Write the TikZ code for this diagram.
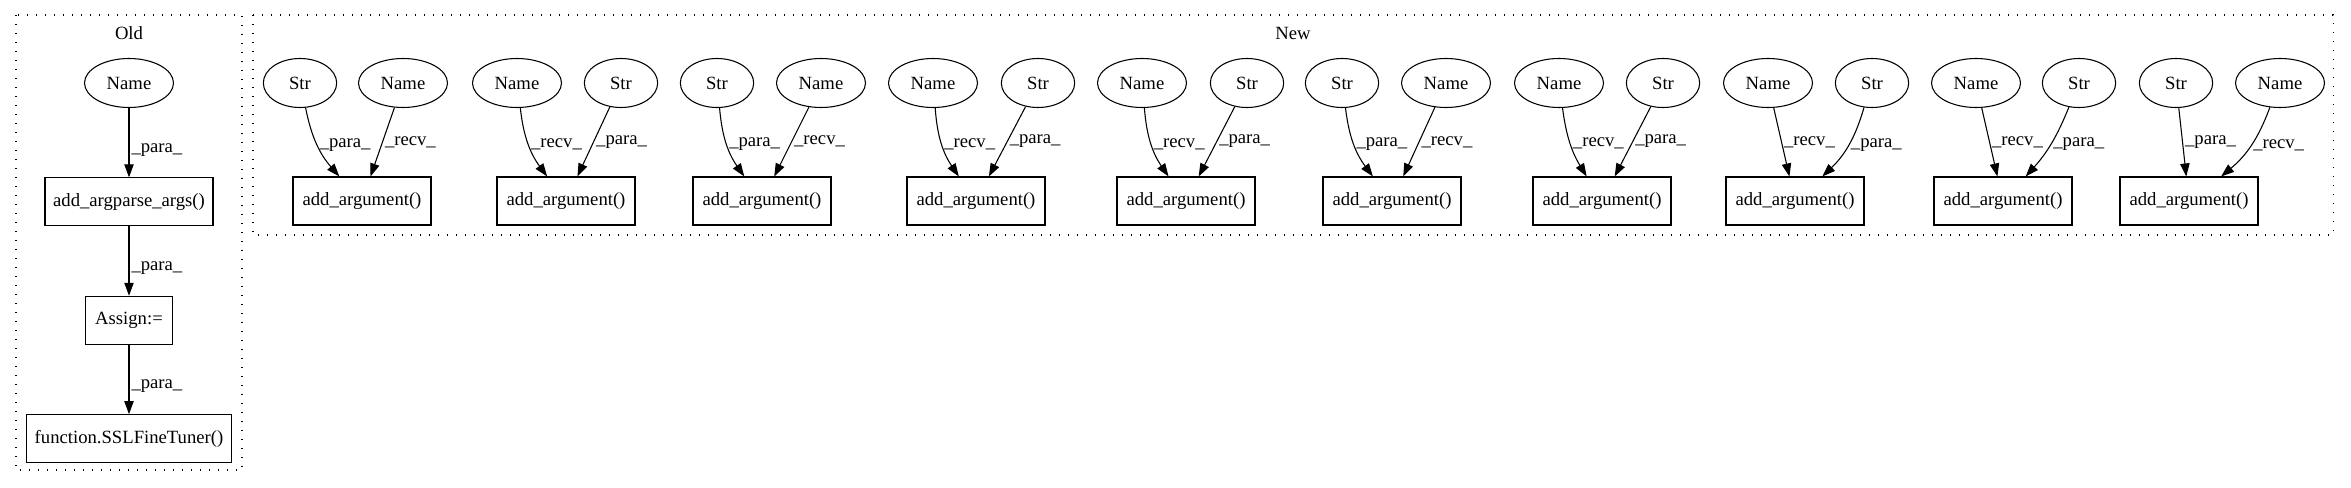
\documentclass[tikz,border=0pt]{standalone}
\usepackage{fontspec}
\setmainfont{Liberation Serif}
\usepackage{tikz}
\usetikzlibrary{shapes.geometric, arrows.meta, positioning}
\tikzstyle{namenode} = [ellipse, draw, line width=0.8pt, minimum width=66.75pt, minimum height=36.75pt, inner sep=0pt]
\tikzstyle{strnode} = [ellipse, draw, line width=0.8pt, minimum width=55pt, minimum height=36.75pt, inner sep=0pt]
\tikzstyle{callbox} = [rectangle, draw, line width=0.8pt, minimum width=103.5pt, minimum height=36pt, inner sep=0pt]
\tikzstyle{cluster} = [line width=0.8pt, dash pattern=on 0.9pt off 5.85pt]
\tikzstyle{arrow} = [line width=0.8pt, -{Triangle[length=9.75pt, width=7pt]}]
\tikzstyle{elabel} = [midway, right, inner sep=1.5pt]

\begin{document}
\begin{tikzpicture}[x=0.75pt, y=0.75pt, font=\fontsize{14pt}{16pt}\selectfont]
\useasboundingbox (0,0) rectangle (2351,-488);

% Clusters
\draw[cluster] (16,-15) rectangle (242,-470);
\node (oldlabel) at (129,-33) {Old};
\draw[cluster] (253,-15) rectangle (2333,-235);
\node (newlabel) at (1293,-33) {New};

% Old chain
\node[namenode] (oldname) at (129,-83) {Name};
\node[callbox, minimum width=126pt, below=52pt of oldname] (argparse) {add\_argparse\_args()};
\node[callbox, minimum width=65.25pt, below=52pt of argparse] (assign) {Assign:=};
\node[callbox, minimum width=153.75pt, below=52pt of assign] (tuner) {function.SSLFineTuner()};

\draw[arrow] (oldname) -- node[elabel, pos=0.6] {\_para\_} (argparse);
\draw[arrow] (argparse) -- node[elabel, pos=0.6] {\_para\_} (assign);
\draw[arrow] (assign) -- node[elabel, pos=0.6] {\_para\_} (tuner);

% New calls
\node[callbox] (arg1) at (362,-201) {add\_argument()};
\node[callbox] (arg2) at (566,-201) {add\_argument()};
\node[callbox] (arg3) at (762,-201) {add\_argument()};
\node[callbox] (arg4) at (976,-201) {add\_argument()};
\node[callbox] (arg5) at (1186,-201) {add\_argument()};
\node[callbox] (arg6) at (1392,-201) {add\_argument()};
\node[callbox] (arg7) at (1602,-201) {add\_argument()};
\node[callbox] (arg8) at (1795,-201) {add\_argument()};
\node[callbox] (arg9) at (2003,-201) {add\_argument()};
\node[callbox] (arg10) at (2189,-201) {add\_argument()};

% New operands
\node[strnode] (str1) at (300,-83) {Str};
\node[namenode] (name1) at (403,-83) {Name};
\node[namenode] (name2) at (517,-83) {Name};
\node[strnode] (str2) at (621,-83) {Str};
\node[strnode] (str3) at (717,-83) {Str};
\node[namenode] (name3) at (821,-83) {Name};
\node[namenode] (name4) at (933,-83) {Name};
\node[strnode] (str4) at (1038,-83) {Str};
\node[namenode] (name5) at (1142,-83) {Name};
\node[strnode] (str5) at (1247,-83) {Str};
\node[strnode] (str6) at (1342,-83) {Str};
\node[namenode] (name6) at (1446,-83) {Name};
\node[namenode] (name7) at (1559,-83) {Name};
\node[strnode] (str7) at (1663,-83) {Str};
\node[namenode] (name8) at (1768,-83) {Name};
\node[strnode] (str8) at (1872,-83) {Str};
\node[namenode] (name9) at (1976,-83) {Name};
\node[strnode] (str9) at (2079,-83) {Str};
\node[strnode] (str10) at (2176,-83) {Str};
\node[namenode] (name10) at (2280,-83) {Name};

% Arrows
\draw[arrow] (str1) to[bend right=15] node[elabel] {\_para\_} (arg1);
\draw[arrow] (name1) -- node[elabel] {\_recv\_} (arg1);
\draw[arrow] (name2) to[bend right=15] node[elabel] {\_recv\_} (arg2);
\draw[arrow] (str2) -- node[elabel] {\_para\_} (arg2);
\draw[arrow] (str3) to[bend right=15] node[elabel] {\_para\_} (arg3);
\draw[arrow] (name3) -- node[elabel] {\_recv\_} (arg3);
\draw[arrow] (name4) to[bend right=15] node[elabel] {\_recv\_} (arg4);
\draw[arrow] (str4) -- node[elabel] {\_para\_} (arg4);
\draw[arrow] (name5) to[bend right=15] node[elabel] {\_recv\_} (arg5);
\draw[arrow] (str5) -- node[elabel] {\_para\_} (arg5);
\draw[arrow] (str6) to[bend right=15] node[elabel] {\_para\_} (arg6);
\draw[arrow] (name6) -- node[elabel] {\_recv\_} (arg6);
\draw[arrow] (name7) to[bend right=12] node[elabel] {\_recv\_} (arg7);
\draw[arrow] (str7) -- node[elabel] {\_para\_} (arg7);
\draw[arrow] (name8) -- node[elabel] {\_recv\_} (arg8);
\draw[arrow] (str8) to[bend left=15] node[elabel] {\_para\_} (arg8);
\draw[arrow] (name9) -- node[elabel] {\_recv\_} (arg9);
\draw[arrow] (str9) to[bend left=10] node[elabel] {\_para\_} (arg9);
\draw[arrow] (str10) -- node[elabel] {\_para\_} (arg10);
\draw[arrow] (name10) to[bend left=15] node[elabel] {\_recv\_} (arg10);

\end{tikzpicture}
\end{document}
